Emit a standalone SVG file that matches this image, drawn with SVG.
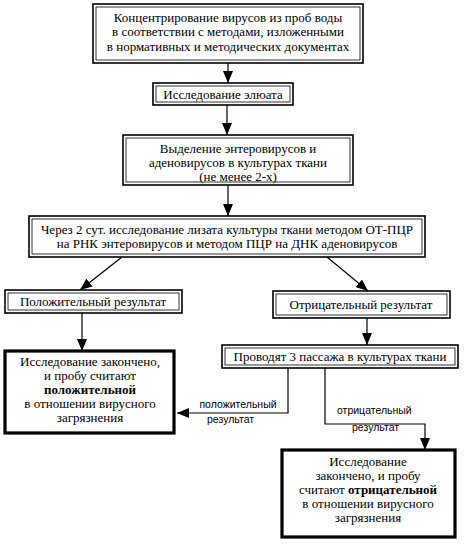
<svg xmlns="http://www.w3.org/2000/svg" width="465" height="544" viewBox="0 0 465 544">
<defs>
<marker id="ah" viewBox="0 0 12 10" refX="12" refY="5" markerWidth="12" markerHeight="10" markerUnits="userSpaceOnUse" orient="auto">
<path d="M0,0 L12,5 L0,10 Z" fill="#000"/>
</marker>
<style>
.t{font-size:13px;fill:#000;text-anchor:middle}
.b{font-weight:bold}
.l{font-size:10.5px;fill:#000}
.o{fill:#fff;stroke:#000;stroke-width:1.6}
.i{fill:none;stroke:#000;stroke-width:0.8}
.k{fill:#fff;stroke:#000;stroke-width:3.2}
.c{fill:none;stroke:#000;stroke-width:1.2}
</style>
</defs>
<rect width="465" height="544" fill="#fff"/>
<g id="connectors" font-family="Liberation Sans, Arial, sans-serif">
<line class="c" x1="228" y1="63" x2="228" y2="83" marker-end="url(#ah)"/>
<line class="c" x1="227" y1="105" x2="227" y2="135" marker-end="url(#ah)"/>
<line class="c" x1="228" y1="185" x2="228" y2="216" marker-end="url(#ah)"/>
<line class="c" x1="122" y1="257" x2="80" y2="290" marker-end="url(#ah)"/>
<line class="c" x1="327" y1="257" x2="368" y2="291" marker-end="url(#ah)"/>
<line class="c" x1="82" y1="313" x2="82" y2="351" marker-end="url(#ah)"/>
<line class="c" x1="367" y1="318" x2="367" y2="345" marker-end="url(#ah)"/>
<polyline class="c" points="288,368 288,413 177,413" marker-end="url(#ah)"/>
<polyline class="c" points="325,368 325,424 425,424 425,450" marker-end="url(#ah)"/>
<text class="l" x="238" y="408" text-anchor="middle">положительный</text>
<text class="l" x="207" y="423">результат</text>
<text class="l" x="337" y="414">отрицательный</text>
<text class="l" x="352" y="431">результат</text>
</g>
<g font-family="Liberation Serif, Times New Roman, serif">
<g id="n1">
<rect class="o" x="93" y="4" width="270" height="59"/>
<rect class="i" x="96" y="7" width="264" height="53"/>
<text class="t" x="228" y="22">Концентрирование вирусов из проб воды</text>
<text class="t" x="228" y="36">в соответствии с методами, изложенными</text>
<text class="t" x="228" y="51">в нормативных и методических документах</text>
</g>
<g id="n2">
<rect class="o" x="153" y="83" width="140" height="22"/>
<rect class="i" x="156" y="86" width="134" height="16"/>
<text class="t" x="223" y="99">Исследование элюата</text>
</g>
<g id="n3">
<rect class="o" x="123" y="135" width="230" height="50"/>
<rect class="i" x="126" y="138" width="224" height="44"/>
<text class="t" x="238" y="153">Выделение энтеровирусов и</text>
<text class="t" x="238" y="167">аденовирусов в культурах ткани</text>
<text class="t" x="238" y="181">(не менее 2-х)</text>
</g>
<g id="n4">
<rect class="o" x="29" y="216" width="396" height="41"/>
<rect class="i" x="32" y="219" width="390" height="35"/>
<text class="t" x="227" y="234">Через 2 сут. исследование лизата культуры ткани методом ОТ-ПЦР</text>
<text class="t" x="227" y="248">на РНК энтеровирусов и методом ПЦР на ДНК аденовирусов</text>
</g>
<g id="n5">
<rect class="o" x="5" y="290" width="177" height="23"/>
<rect class="i" x="8" y="293" width="171" height="17"/>
<text class="t" x="93" y="306">Положительный результат</text>
</g>
<g id="n6">
<rect class="o" x="273" y="291" width="177" height="27"/>
<rect class="i" x="276" y="294" width="171" height="21"/>
<text class="t" x="361" y="309">Отрицательный результат</text>
</g>
<g id="n7">
<rect class="o" x="222" y="345" width="236" height="23"/>
<rect class="i" x="225" y="348" width="230" height="17"/>
<text class="t" x="340" y="361">Проводят 3 пассажа в культурах ткани</text>
</g>
<g id="n8">
<rect class="k" x="5" y="351" width="169" height="82"/>
<text class="t" x="90" y="366">Исследование закончено,</text>
<text class="t" x="90" y="380">и пробу считают</text>
<text class="t b" x="90" y="394">положительной</text>
<text class="t" x="90" y="408">в отношении вирусного</text>
<text class="t" x="90" y="422">загрязнения</text>
</g>
<g id="n9">
<rect class="k" x="282" y="450" width="173" height="87"/>
<text class="t" x="368" y="466">Исследование</text>
<text class="t" x="368" y="480">закончено, и пробу</text>
<text class="t" x="368" y="494">считают <tspan class="b">отрицательной</tspan></text>
<text class="t" x="368" y="508">в отношении вирусного</text>
<text class="t" x="368" y="522">загрязнения</text>
</g>
</g>
</svg>
